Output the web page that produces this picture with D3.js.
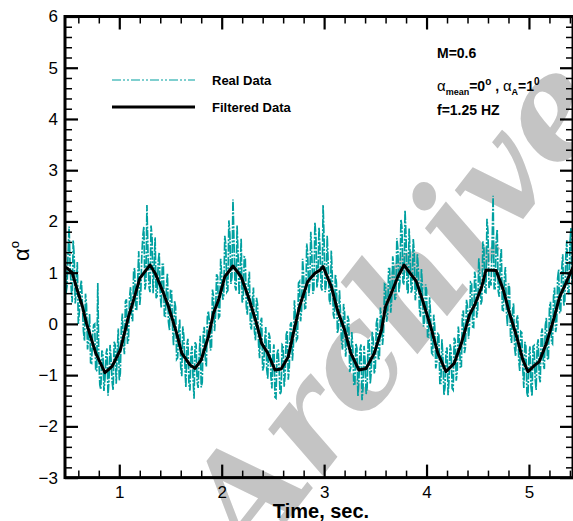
<!DOCTYPE html>
<html>
<head>
<meta charset="utf-8">
<script src="https://cdn.jsdelivr.net/npm/d3@7"></script>
<style>
  body { margin: 0; background: #fff; }
  svg { display: block; font-family: "Liberation Sans", Arial, sans-serif; }
</style>
</head>
<body>
<svg id="chart" width="573" height="521"></svg>
<script>
// axis ranges and ticks
const xDomain = [0.47, 5.43];
const yDomain = [-3, 6];
const xMajor = [1, 2, 3, 4, 5];
const yMajor = [-3, -2, -1, 0, 1, 2, 3, 4, 5, 6];

// raw signal: samples at 0.47, 0.49, ... s
const realStart = 0.47;
const realStep = 0.01;
const realValues = [
  1.70,0.74,1.90,0.72,1.63,0.40,1.21,0.23,0.85,-0.14,
  0.59,-0.50,0.20,-0.77,-0.02,-0.92,0.80,-1.19,-0.52,-1.31,
  -0.60,-1.40,-0.41,-1.13,-0.35,-1.17,-0.09,-0.96,0.20,-0.59,
  0.48,-0.31,0.72,0.05,1.09,0.28,1.42,0.61,1.72,0.67,
  2.32,0.72,1.92,0.60,1.69,0.55,1.40,0.31,1.16,0.15,
  0.99,-0.12,0.65,-0.43,0.33,-0.66,0.09,-1.02,-0.23,-1.24,
  -0.29,-1.30,-0.43,-1.46,-0.40,-1.25,-0.23,-1.14,-0.06,-0.83,
  0.25,-0.52,0.67,-0.14,0.97,0.12,1.27,0.47,1.72,0.62,
  2.02,0.78,2.43,0.73,1.92,0.57,1.67,0.46,1.30,0.18,
  1.02,-0.11,0.71,-0.32,0.38,-0.67,0.12,-0.84,-0.06,-1.07,
  -0.26,-1.26,-0.40,-1.45,-0.49,-1.38,-0.40,-1.23,-0.21,-1.09,
  -0.01,-0.72,0.46,-0.32,0.80,0.05,1.27,0.30,1.57,0.55,
  1.80,0.59,1.99,0.71,1.89,0.72,2.32,0.62,1.72,0.48,
  1.43,0.18,0.97,-0.18,0.66,-0.35,0.39,-0.64,0.16,-0.94,
  -0.16,-1.20,-0.38,-1.41,-0.50,-1.49,-0.43,-1.37,-0.30,-1.17,
  -0.15,-0.97,0.01,-0.71,0.32,-0.41,0.78,0.04,1.08,0.22,
  1.32,0.47,1.67,0.61,2.04,0.81,2.22,0.67,1.86,0.61,
  1.66,0.46,1.37,0.30,1.08,-0.05,0.77,-0.25,0.52,-0.57,
  0.18,-0.87,-0.17,-1.16,-0.30,-1.39,-0.53,-1.39,-0.40,-1.26,
  -0.27,-1.11,-0.05,-0.84,0.19,-0.57,0.47,-0.29,0.82,-0.06,
  1.02,0.12,1.28,0.38,1.61,0.62,2.05,0.70,0.75,2.50,
  0.69,1.84,0.53,1.47,0.26,1.11,-0.04,0.71,-0.37,0.40,
  -0.63,0.17,-0.92,-0.17,-1.25,-0.44,-1.43,-0.44,-1.41,-0.42,
  -1.29,-0.30,-1.14,-0.09,-0.88,0.12,-0.70,0.43,-0.39,0.71,
  -0.04,1.06,0.22,1.36,0.45,1.63,0.58,1.87,0.80
];
// raw signal: in-between samples at 0.48, 0.50, ... s
const realMid = [
  0.60,1.37,1.13,0.42,1.31,0.63,0.00,0.71,0.38,-0.33,
  0.37,-0.30,-0.76,-0.20,0.00,-0.91,-0.65,-1.28,-0.57,-1.08,
  -0.48,-1.08,-0.70,-1.29,-0.41,-0.58,-1.10,-0.08,-0.37,0.44,
  -0.39,0.51,0.14,1.02,0.26,0.85,0.37,1.34,1.90,0.80,
  1.40,0.62,1.69,1.07,0.50,1.20,0.56,1.16,0.16,0.70,
  0.04,0.67,-0.06,0.45,-0.69,-0.14,-0.84,-0.05,-0.76,-0.42,
  -1.17,-0.57,-1.05,-0.36,-1.13,-0.62,-1.24,-0.18,-0.70,0.13,
  0.04,-0.47,0.54,0.17,0.92,0.15,0.95,0.55,1.55,0.65,
  1.75,0.91,1.61,0.65,1.34,1.00,0.42,1.31,0.34,0.78,
  -0.04,0.48,-0.15,0.51,-0.40,0.05,-0.91,-0.33,-0.89,-0.17,
  -1.01,-0.61,-1.43,-0.60,-0.84,-1.32,-0.42,-0.95,-0.13,-0.85,
  0.03,-0.43,0.15,-0.28,0.83,0.26,0.94,0.31,1.36,0.78,
  1.37,0.67,1.70,0.88,1.46,0.65,1.62,0.77,1.18,0.38,
  0.91,0.10,0.80,-0.08,0.21,-0.50,0.22,-0.42,0.08,-0.85,
  -0.46,-1.19,-0.47,-1.08,-0.40,-1.24,-0.73,-1.24,-0.31,-0.94,
  -0.31,-0.86,0.12,-0.65,0.10,-0.19,0.76,0.19,1.08,0.47,
  1.12,0.52,1.47,0.80,1.88,0.77,1.70,0.59,1.34,0.69,
  1.39,0.62,1.06,0.14,0.72,0.04,0.66,-0.26,0.15,-0.60,
  -0.05,-0.75,-0.22,-1.16,-0.65,-1.24,-0.46,-1.07,-0.53,-1.29,
  -0.32,-0.91,-0.30,-0.83,0.26,-0.45,0.34,-0.03,0.81,-0.07,
  0.87,0.28,0.98,0.45,1.49,0.61,1.80,0.85,1.55,0.69,
  1.62,0.64,1.23,0.27,0.89,0.24,0.79,-0.25,0.27,-0.47,
  0.10,-0.70,-0.15,-0.89,-0.35,-1.34,-0.61,-1.23,-0.44,-1.06,
  -0.42,-1.02,-0.19,-0.79,-0.03,-0.67,0.31,-0.36,0.54,-0.16,
  0.89,0.22,1.07,0.36,1.34,0.63,1.58,0.76
];

// filtered signal
const filtTime = [0.47,0.49,0.54,0.59,0.64,0.68,0.77,0.86,0.93,1.01,1.09,1.14,1.20,1.25,1.30,1.35,1.42,1.48,1.56,1.61,
  1.69,1.74,1.80,1.87,1.92,1.97,2.03,2.11,2.19,2.27,2.34,2.39,2.45,2.52,2.58,2.65,2.70,2.76,2.84,2.91,
  2.96,2.99,3.07,3.13,3.20,3.26,3.34,3.41,3.49,3.56,3.60,3.65,3.72,3.78,3.85,3.90,3.96,4.04,4.11,4.19,
  4.27,4.34,4.42,4.47,4.54,4.58,4.68,4.75,4.81,4.88,4.94,4.99,5.06,5.10,5.17,5.24,5.30,5.36,5.41,5.43];
const filtValues = [1.10,1.09,1.00,0.66,0.34,0.01,-0.57,-0.95,-0.83,-0.51,0.14,0.47,0.89,1.02,1.15,0.99,0.66,0.34,-0.18,-0.57,
  -0.80,-0.87,-0.70,-0.25,0.21,0.47,0.92,1.13,0.92,0.47,0.01,-0.38,-0.57,-0.90,-0.88,-0.64,-0.18,0.34,0.83,0.99,
  1.05,1.12,0.73,0.27,-0.12,-0.57,-0.90,-0.87,-0.57,-0.12,0.34,0.57,0.92,1.15,0.96,0.83,0.47,-0.05,-0.57,-0.93,
  -0.77,-0.38,0.18,0.37,0.73,1.05,1.04,0.66,0.21,-0.25,-0.70,-0.93,-0.80,-0.74,-0.38,0.08,0.53,0.79,1.02,1.10];

const legendLabels = ["Real Data", "Filtered Data"];
const teal = "#00a0a0";

const svg = d3.select("#chart");
const plot = {left: 65, right: 573, top: 16.5, bottom: 477.6};

const x = d3.scaleLinear().domain(xDomain).range([plot.left, plot.right]);
const y = d3.scaleLinear().domain(yDomain).range([plot.bottom, plot.top]);

const xMinor = d3.range(0.6, 5.41, 0.2).filter(v => Math.abs(v - Math.round(v)) > 0.01);
const yMinor = d3.range(-3, 6.01, 0.2).filter(v => Math.abs(v - Math.round(v)) > 0.01);

// watermark
svg.append("text")
  .attr("transform", "translate(252,566) rotate(-52)")
  .attr("font-family", "DejaVu Serif")
  .attr("font-style", "italic")
  .attr("font-weight", "bold")
  .attr("font-size", 138)
  .attr("fill", "#c4c4c4")
  .text("Archive");

svg.append("clipPath").attr("id", "clip")
  .append("rect")
  .attr("x", plot.left).attr("y", plot.top)
  .attr("width", plot.right - plot.left).attr("height", plot.bottom - plot.top);

// data: interleave the two sample sets
const realData = [];
realValues.forEach((v, i) => {
  realData.push({t: realStart + 2 * i * realStep, v});
  if (i < realMid.length) realData.push({t: realStart + (2 * i + 1) * realStep, v: realMid[i]});
});
const filtData = filtTime.map((t, i) => ({t, v: filtValues[i]}));

const line = d3.line().x(d => x(d.t)).y(d => y(d.v));

const g = svg.append("g").attr("clip-path", "url(#clip)");
g.append("path")
  .datum(realData)
  .attr("d", line)
  .attr("fill", "none")
  .attr("stroke", teal)
  .attr("stroke-width", 1.7)
  .attr("stroke-dasharray", "9,1.5,2,1.5");

g.append("path")
  .datum(filtData)
  .attr("d", line)
  .attr("fill", "none")
  .attr("stroke", "#000")
  .attr("stroke-width", 3)
  .attr("stroke-linejoin", "round");

// axes (ticks inward on all four sides)
function styleAxis(sel, w) {
  sel.select(".domain").remove();
  sel.selectAll(".tick line").attr("stroke", "#000").attr("stroke-width", w);
  sel.selectAll("text").attr("font-size", 17).attr("fill", "#000");
}

svg.append("g").attr("transform", `translate(0,${plot.bottom})`)
  .call(d3.axisBottom(x).tickValues(xMajor).tickSize(-13).tickPadding(8).tickFormat(d3.format("d")))
  .call(s => styleAxis(s, 2.2));
svg.append("g").attr("transform", `translate(0,${plot.bottom})`)
  .call(d3.axisBottom(x).tickValues(xMinor).tickSize(-7).tickFormat(""))
  .call(s => styleAxis(s, 1.5));
svg.append("g").attr("transform", `translate(0,${plot.top})`)
  .call(d3.axisTop(x).tickValues(xMajor).tickSize(-13).tickFormat(""))
  .call(s => styleAxis(s, 2.2));
svg.append("g").attr("transform", `translate(0,${plot.top})`)
  .call(d3.axisTop(x).tickValues(xMinor).tickSize(-7).tickFormat(""))
  .call(s => styleAxis(s, 1.5));

svg.append("g").attr("transform", `translate(${plot.left},0)`)
  .call(d3.axisLeft(y).tickValues(yMajor).tickSize(-13).tickPadding(7).tickFormat(d3.format("d")))
  .call(s => styleAxis(s, 2.2));
svg.append("g").attr("transform", `translate(${plot.left},0)`)
  .call(d3.axisLeft(y).tickValues(yMinor).tickSize(-7).tickFormat(""))
  .call(s => styleAxis(s, 1.5));
svg.append("g").attr("transform", `translate(${plot.right},0)`)
  .call(d3.axisRight(y).tickValues(yMajor).tickSize(-13).tickFormat(""))
  .call(s => styleAxis(s, 2.2));
svg.append("g").attr("transform", `translate(${plot.right},0)`)
  .call(d3.axisRight(y).tickValues(yMinor).tickSize(-7).tickFormat(""))
  .call(s => styleAxis(s, 1.5));

svg.append("rect")
  .attr("x", plot.left).attr("y", plot.top)
  .attr("width", plot.right - plot.left).attr("height", plot.bottom - plot.top)
  .attr("fill", "none").attr("stroke", "#000").attr("stroke-width", 3);

// axis titles
svg.append("text")
  .attr("x", 321).attr("y", 518)
  .attr("text-anchor", "middle")
  .attr("font-size", 20).attr("font-weight", "bold")
  .text("Time, sec.");

const yt = svg.append("text")
  .attr("transform", "translate(29,251) rotate(-90)")
  .attr("text-anchor", "middle")
  .attr("font-size", 22);
yt.append("tspan").text("α");
yt.append("tspan").attr("font-size", 13).attr("dy", -10).text("o");

// legend
const legend = svg.append("g");
legend.append("line").attr("x1", 112).attr("x2", 195).attr("y1", 80).attr("y2", 80)
  .attr("stroke", teal).attr("stroke-width", 1.2).attr("stroke-dasharray", "9,2,2,2,2,2");
legend.append("line").attr("x1", 112).attr("x2", 195).attr("y1", 107).attr("y2", 107)
  .attr("stroke", "#000").attr("stroke-width", 3);
legend.selectAll(".lab").data(legendLabels).join("text")
  .attr("class", "lab")
  .attr("x", 212).attr("y", (d, i) => 84.5 + i * 27)
  .attr("font-size", 13).attr("font-weight", "bold")
  .text(d => d);

// case annotation
const ann = svg.append("g").attr("font-weight", "bold").attr("font-size", 14);
ann.append("text").attr("x", 437).attr("y", 58).text("M=0.6");
const a2 = ann.append("text").attr("x", 437).attr("y", 91);
a2.append("tspan").attr("font-weight", "normal").attr("font-size", 15).text("α");
a2.append("tspan").attr("font-size", 9).attr("dy", 4).text("mean");
a2.append("tspan").attr("dy", -4).text("=0");
a2.append("tspan").attr("font-size", 10).attr("dy", -6).text("o");
a2.append("tspan").attr("dy", 6).text(" , ");
a2.append("tspan").attr("font-weight", "normal").attr("font-size", 15).text("α");
a2.append("tspan").attr("font-size", 9).attr("dy", 4).text("A");
a2.append("tspan").attr("dy", -4).text("=1");
a2.append("tspan").attr("font-size", 10).attr("dy", -6).text("0");
ann.append("text").attr("x", 437).attr("y", 115).text("f=1.25 HZ");
</script>
</body>
</html>
